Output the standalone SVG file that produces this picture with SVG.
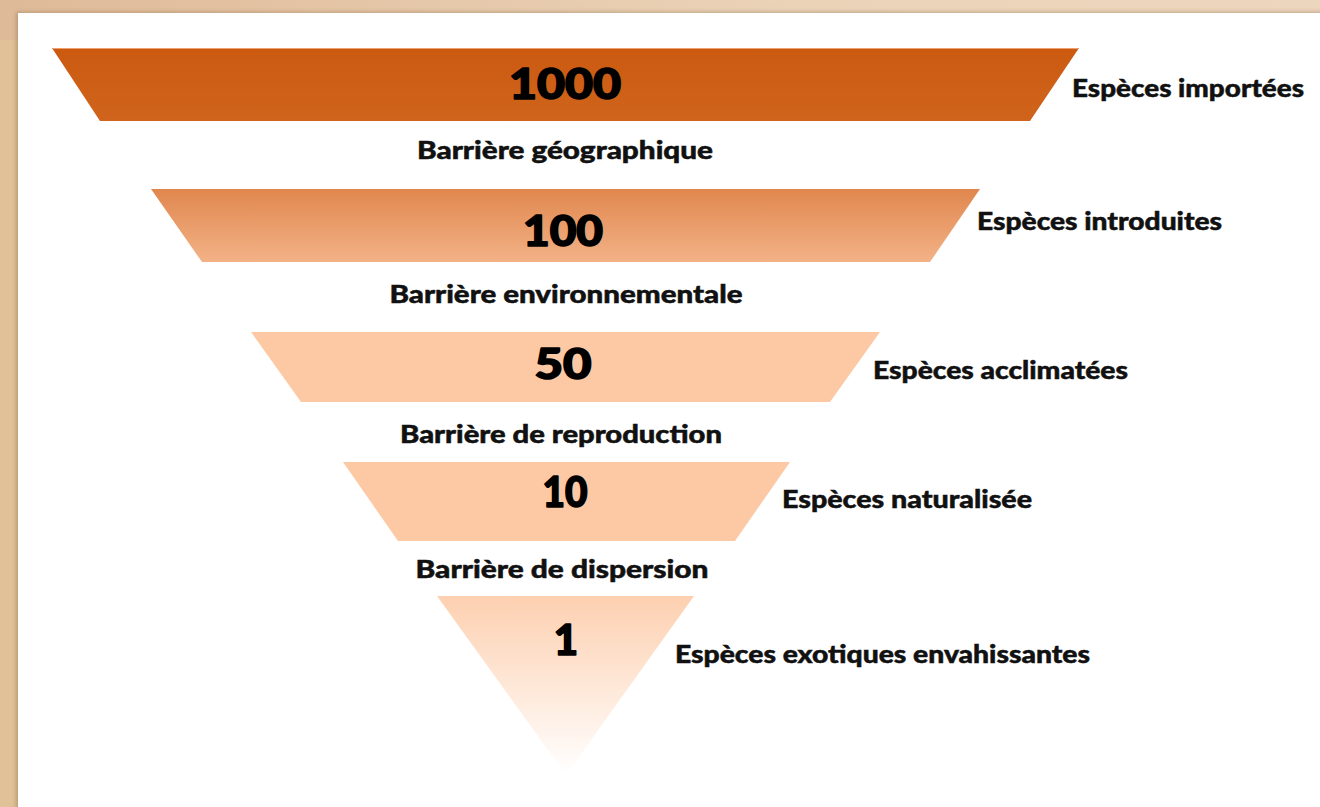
<svg xmlns="http://www.w3.org/2000/svg" width="1320" height="807" viewBox="0 0 1320 807">
<style>
.num{font-family:Lato,"DejaVu Sans",sans-serif;font-weight:900;font-size:42px;fill:#000;stroke:#000;stroke-width:1.6px;stroke-linejoin:round;text-anchor:middle}
.lbl{font-family:Lato,"Liberation Sans",sans-serif;font-weight:900;font-size:25px;fill:#111;stroke:#111;stroke-width:0.5px}
.bar{font-family:Lato,"Liberation Sans",sans-serif;font-weight:900;font-size:25px;fill:#111;stroke:#111;stroke-width:0.5px;text-anchor:middle}
</style>
<defs>
<linearGradient id="bg" x1="0" y1="0" x2="1" y2="0">
<stop offset="0" stop-color="#dfba98"/>
<stop offset="0.6" stop-color="#ebd3b8"/>
<stop offset="1" stop-color="#ecd6bd"/>
</linearGradient>
<linearGradient id="g1" x1="0" y1="0" x2="0" y2="1">
<stop offset="0" stop-color="#cb5a10"/>
<stop offset="1" stop-color="#d0641c"/>
</linearGradient>
<linearGradient id="g2" x1="0" y1="0" x2="0" y2="1">
<stop offset="0" stop-color="#e0874e"/>
<stop offset="1" stop-color="#f3b287"/>
</linearGradient>
<linearGradient id="g5" x1="0" y1="0" x2="0" y2="1">
<stop offset="0" stop-color="#fdd0b0"/>
<stop offset="1" stop-color="#ffffff"/>
</linearGradient>
<filter id="sh" x="-5%" y="-5%" width="110%" height="110%">
<feDropShadow dx="-2" dy="-1" stdDeviation="2" flood-color="#8a6a4a" flood-opacity="0.45"/>
</filter>
</defs>
<rect x="0" y="0" width="1320" height="807" fill="url(#bg)"/>
<rect x="0" y="40" width="18" height="767" fill="#e1c197"/>
<rect x="18" y="13" width="1310" height="800" fill="#ffffff" filter="url(#sh)"/>
<g id="level1">
<polygon points="52,48 1079,48 1030,121 100,121" fill="url(#g1)"/>
<line x1="53" y1="48.5" x2="1078" y2="48.5" stroke="#f0a070" stroke-width="1"/>
<text class="num" x="565" y="99" textLength="112" lengthAdjust="spacingAndGlyphs">1000</text>
<text class="lbl" x="1072" y="97" textLength="232" lengthAdjust="spacingAndGlyphs">Espèces importées</text>
</g>
<g id="barrier1"><text class="bar" x="565" y="159" textLength="296" lengthAdjust="spacingAndGlyphs">Barrière géographique</text></g>
<g id="level2">
<polygon points="151,189 980,189 930,262 202,262" fill="url(#g2)"/>
<text class="num" x="563" y="246" textLength="80" lengthAdjust="spacingAndGlyphs">100</text>
<text class="lbl" x="977" y="230" textLength="245" lengthAdjust="spacingAndGlyphs">Espèces introduites</text>
</g>
<g id="barrier2"><text class="bar" x="566" y="303" textLength="353" lengthAdjust="spacingAndGlyphs">Barrière environnementale</text></g>
<g id="level3">
<polygon points="251,332 880,332 830,402 301,402" fill="#fdc9a4"/>
<text class="num" x="563" y="379" textLength="57" lengthAdjust="spacingAndGlyphs">50</text>
<text class="lbl" x="873" y="379" textLength="255" lengthAdjust="spacingAndGlyphs">Espèces acclimatées</text>
</g>
<g id="barrier3"><text class="bar" x="561" y="443" textLength="322" lengthAdjust="spacingAndGlyphs">Barrière de reproduction</text></g>
<g id="level4">
<polygon points="343,462 790,462 735,541 398,541" fill="#fdc9a4"/>
<text class="num" x="565" y="507" textLength="45" lengthAdjust="spacingAndGlyphs">10</text>
<text class="lbl" x="782" y="508" textLength="250" lengthAdjust="spacingAndGlyphs">Espèces naturalisée</text>
</g>
<g id="barrier4"><text class="bar" x="562" y="578" textLength="293" lengthAdjust="spacingAndGlyphs">Barrière de dispersion</text></g>
<g id="level5">
<polygon points="437,596 694,596 566,775" fill="url(#g5)"/>
<text class="num" x="566" y="655">1</text>
<text class="lbl" x="675" y="663" textLength="415" lengthAdjust="spacingAndGlyphs">Espèces exotiques envahissantes</text>
</g>
<g id="connectors"></g>
</svg>
